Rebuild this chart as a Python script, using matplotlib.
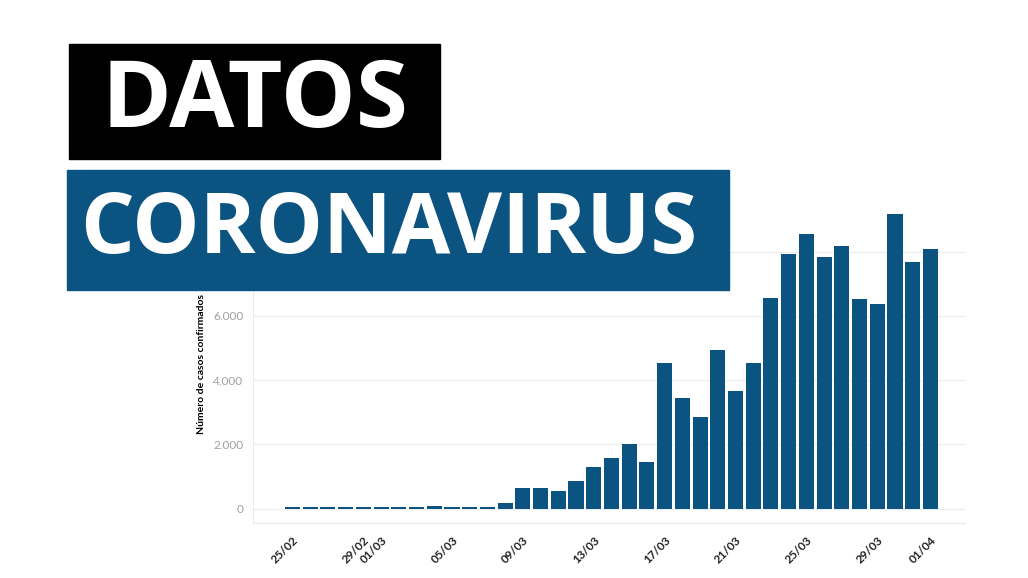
import matplotlib
matplotlib.use("Agg")
import matplotlib.pyplot as plt
from matplotlib.patches import Rectangle

# daily confirmed cases, 25/02 .. 01/04
dates = ["25/02", "26/02", "27/02", "28/02", "29/02",
         "01/03", "02/03", "03/03", "04/03", "05/03", "06/03", "07/03", "08/03",
         "09/03", "10/03", "11/03", "12/03", "13/03", "14/03", "15/03", "16/03",
         "17/03", "18/03", "19/03", "20/03", "21/03", "22/03", "23/03", "24/03",
         "25/03", "26/03", "27/03", "28/03", "29/03", "30/03", "31/03", "01/04"]
cases = [40, 40, 40, 40, 40,
         40, 45, 45, 90, 60, 60, 60, 160,
         655, 655, 540, 850, 1290, 1570, 2025, 1455,
         4540, 3450, 2840, 4945, 3670, 4520, 6570, 7920,
         8545, 7830, 8160, 6520, 6375, 9180, 7690, 8080]
shown_dates = ["25/02", "29/02", "01/03", "05/03", "09/03", "13/03",
               "17/03", "21/03", "25/03", "29/03", "01/04"]
y_ticks = [0, 2000, 4000, 6000, 8000]
y_labels = ["0", "2.000", "4.000", "6.000", "8.000"]

BLUE = "#0b5481"

fig = plt.figure(figsize=(10.28, 5.78), dpi=100)
ax = fig.add_axes([0.2461, 0.0952, 0.6926, 0.5501])

x = list(range(len(dates)))
ax.bar(x, cases, width=0.85, color=BLUE, zorder=3)
ax.set_xlim(-2.23, 37.95)
ax.set_ylim(-448, 9450)

ax.set_yticks(y_ticks)
ax.set_yticklabels(y_labels, color="#a0a0a0", fontsize=8.5, family="Lato")
ax.set_xticks([dates.index(d) for d in shown_dates])
ax.set_xticklabels(shown_dates, rotation=45, ha="right", rotation_mode="anchor",
                   fontsize=8.5, fontweight="bold", color="#222222", family="Lato")
ax.tick_params(axis="y", length=0, pad=7)
ax.tick_params(axis="x", length=0, pad=8)
ax.set_ylabel("Número de casos confirmados", fontsize=7.5, fontweight="bold",
              family="Lato", labelpad=5)
ax.grid(axis="y", color="#eeeeee", linewidth=1, zorder=0)
for side in ("top", "right"):
    ax.spines[side].set_visible(False)
for side in ("left", "bottom"):
    ax.spines[side].set_color("#eaeaea")

# header boxes (drawn over the chart)
W, H = 1028, 578
fig.add_artist(Rectangle((69 / W, 1 - 159 / H), 371 / W, 115 / H,
                         transform=fig.transFigure, color="black", zorder=5))
fig.text(255 / W, 1 - 103 / H, "DATOS", color="white", fontsize=68,
         fontweight="bold", family="Open Sans", ha="center", va="center", zorder=6)
fig.add_artist(Rectangle((67 / W, 1 - 290 / H), 662 / W, 120 / H,
                         transform=fig.transFigure, color=BLUE, zorder=5))
fig.text(389 / W, 1 - 231 / H, "CORONAVIRUS", color="white", fontsize=61,
         fontweight="bold", family="Open Sans", ha="center", va="center", zorder=6)

fig.savefig("out.png", dpi=100)
